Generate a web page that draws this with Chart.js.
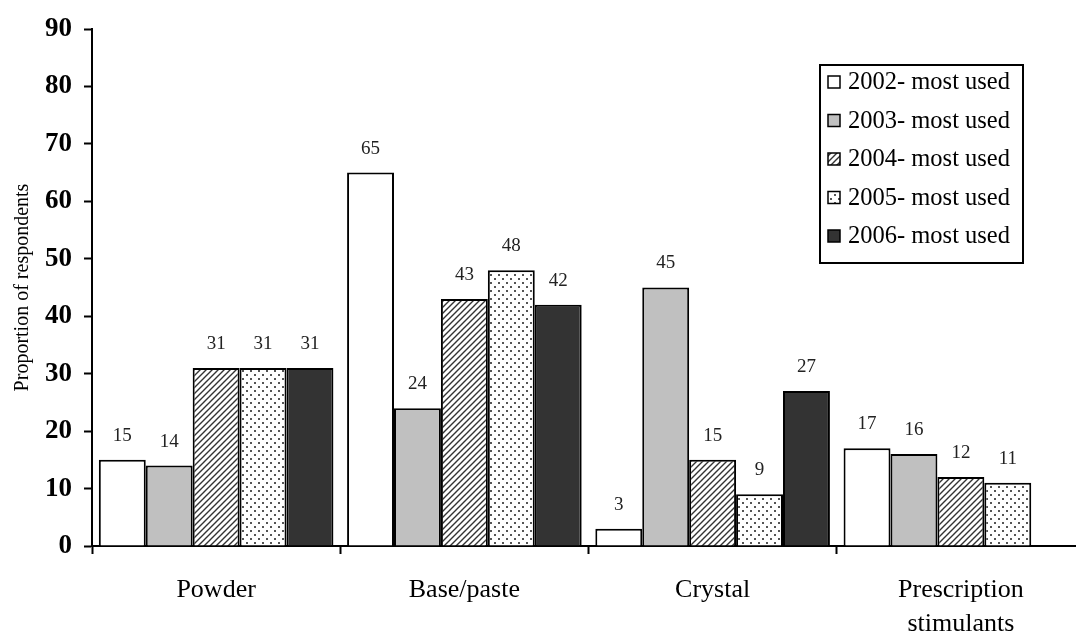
<!DOCTYPE html>
<html>
<head>
<meta charset="utf-8">
<script src="https://cdn.jsdelivr.net/npm/chart.js@4.4.1/dist/chart.umd.min.js"></script>
<style>
  html, body { margin: 0; padding: 0; background: #fff; overflow: hidden; }
  #wrap { width: 1092px; height: 633px; }
</style>
</head>
<body>
<div id="wrap"><canvas id="myChart" width="1092" height="633"></canvas></div>
<script>
// data
var categories = ['Powder', 'Base/paste', 'Crystal', ['Prescription', 'stimulants']];
var seriesNames = ['2002- most used', '2003- most used', '2004- most used', '2005- most used', '2006- most used'];
var v2002 = [15, 65, 3, 17];
var v2003 = [14, 24, 45, 16];
var v2004 = [31, 43, 15, 12];
var v2005 = [31, 48, 9, 11];
var v2006 = [31, 42, 27, null];
var yTicks = [0, 10, 20, 30, 40, 50, 60, 70, 80, 90];

var SERIF = '"Liberation Serif", "Times New Roman", serif';

function makeHatch() {
    var c = document.createElement('canvas');
    c.width = 6; c.height = 6;
    var g = c.getContext('2d');
    g.fillStyle = '#fff';
    g.fillRect(0, 0, 6, 6);
    g.strokeStyle = '#333';
    g.lineWidth = 1.4;
    g.beginPath();
    g.moveTo(-1, 7); g.lineTo(7, -1);
    g.moveTo(-4, 4); g.lineTo(4, -4);
    g.moveTo(2, 10); g.lineTo(10, 2);
    g.stroke();
    return g.createPattern(c, 'repeat');
}

function makeDots() {
    var c = document.createElement('canvas');
    c.width = 8; c.height = 8;
    var g = c.getContext('2d');
    g.fillStyle = '#fff';
    g.fillRect(0, 0, 8, 8);
    g.fillStyle = '#555';
    g.fillRect(2, 2, 2, 2);
    g.fillRect(6, 6, 2, 2);
    return g.createPattern(c, 'repeat');
}

var fills = ['#ffffff', '#c0c0c0', makeHatch(), makeDots(), '#333333'];
var values = [v2002, v2003, v2004, v2005, v2006];

var datasets = [];
for (var i = 0; i < values.length; i++) {
    datasets.push({
        label: seriesNames[i],
        data: values[i],
        backgroundColor: fills[i],
        borderColor: '#000',
        borderWidth: 2,
        borderSkipped: 'bottom',
        categoryPercentage: 0.945,
        barPercentage: 1.0
    });
}

// value labels above the bars
var valueLabels = {
    id: 'valueLabels',
    afterDatasetsDraw: function(chart) {
        var ctx = chart.ctx;
        ctx.save();
        ctx.font = '19px ' + SERIF;
        ctx.fillStyle = '#222';
        ctx.textAlign = 'center';
        ctx.textBaseline = 'middle';
        chart.data.datasets.forEach(function(ds, di) {
            var meta = chart.getDatasetMeta(di);
            meta.data.forEach(function(bar, j) {
                if (ds.data[j] === null) return;
                ctx.fillText(String(ds.data[j]), bar.x, bar.y - 24);
            });
        });
        ctx.restore();
    }
};

// boxed legend inside the plot, top right
var boxLegend = {
    id: 'boxLegend',
    afterDraw: function(chart) {
        var ctx = chart.ctx;
        var area = chart.chartArea;
        var x0 = area.left + 728, y0 = area.top + 36;
        var w = 203, h = 198, row = 38.5;
        ctx.save();
        ctx.fillStyle = '#fff';
        ctx.fillRect(x0, y0, w, h);
        ctx.strokeStyle = '#000';
        ctx.lineWidth = 2;
        ctx.strokeRect(x0, y0, w, h);
        ctx.font = '24.5px ' + SERIF;
        ctx.textBaseline = 'middle';
        ctx.textAlign = 'left';
        chart.data.datasets.forEach(function(ds, i) {
            var cy = y0 + 17 + i * row;
            ctx.fillStyle = ds.backgroundColor;
            ctx.fillRect(x0 + 8, cy - 6, 12, 12);
            ctx.lineWidth = 1.5;
            ctx.strokeStyle = '#000';
            ctx.strokeRect(x0 + 8, cy - 6, 12, 12);
            ctx.fillStyle = '#000';
            ctx.fillText(ds.label, x0 + 28, cy + 1);
        });
        ctx.restore();
    }
};

var ctx = document.getElementById('myChart');
var myChart = new Chart(ctx, {
    type: 'bar',
    data: { labels: categories, datasets: datasets },
    options: {
        responsive: false,
        animation: false,
        layout: { padding: { top: 29, left: 0, right: 7, bottom: 0 } },
        plugins: {
            legend: { display: false },
            tooltip: { enabled: false }
        },
        scales: {
            x: {
                grid: {
                    offset: true,
                    drawOnChartArea: false,
                    drawTicks: true,
                    tickLength: 8,
                    tickWidth: 2,
                    tickColor: '#000'
                },
                border: { color: '#000', width: 2 },
                ticks: {
                    color: '#000',
                    font: { family: SERIF, size: 26, lineHeight: 1.3 },
                    padding: 19,
                    maxRotation: 0,
                    autoSkip: false
                },
                afterFit: function(scale) { scale.height = 87; }
            },
            y: {
                min: 0,
                max: 90,
                afterBuildTicks: function(scale) {
                    scale.ticks = yTicks.map(function(v) { return { value: v }; });
                },
                grid: {
                    drawOnChartArea: false,
                    drawTicks: true,
                    tickLength: 8,
                    tickWidth: 2,
                    tickColor: '#000'
                },
                border: { color: '#000', width: 2 },
                ticks: {
                    color: '#000',
                    font: { family: SERIF, size: 27, weight: 'bold' },
                    padding: 12
                },
                title: {
                    display: true,
                    text: 'Proportion of respondents',
                    color: '#000',
                    font: { family: SERIF, size: 20 },
                    padding: { top: 11, bottom: 0 }
                },
                afterFit: function(scale) { scale.width = 92; }
            }
        }
    },
    plugins: [valueLabels, boxLegend]
});
</script>
</body>
</html>
